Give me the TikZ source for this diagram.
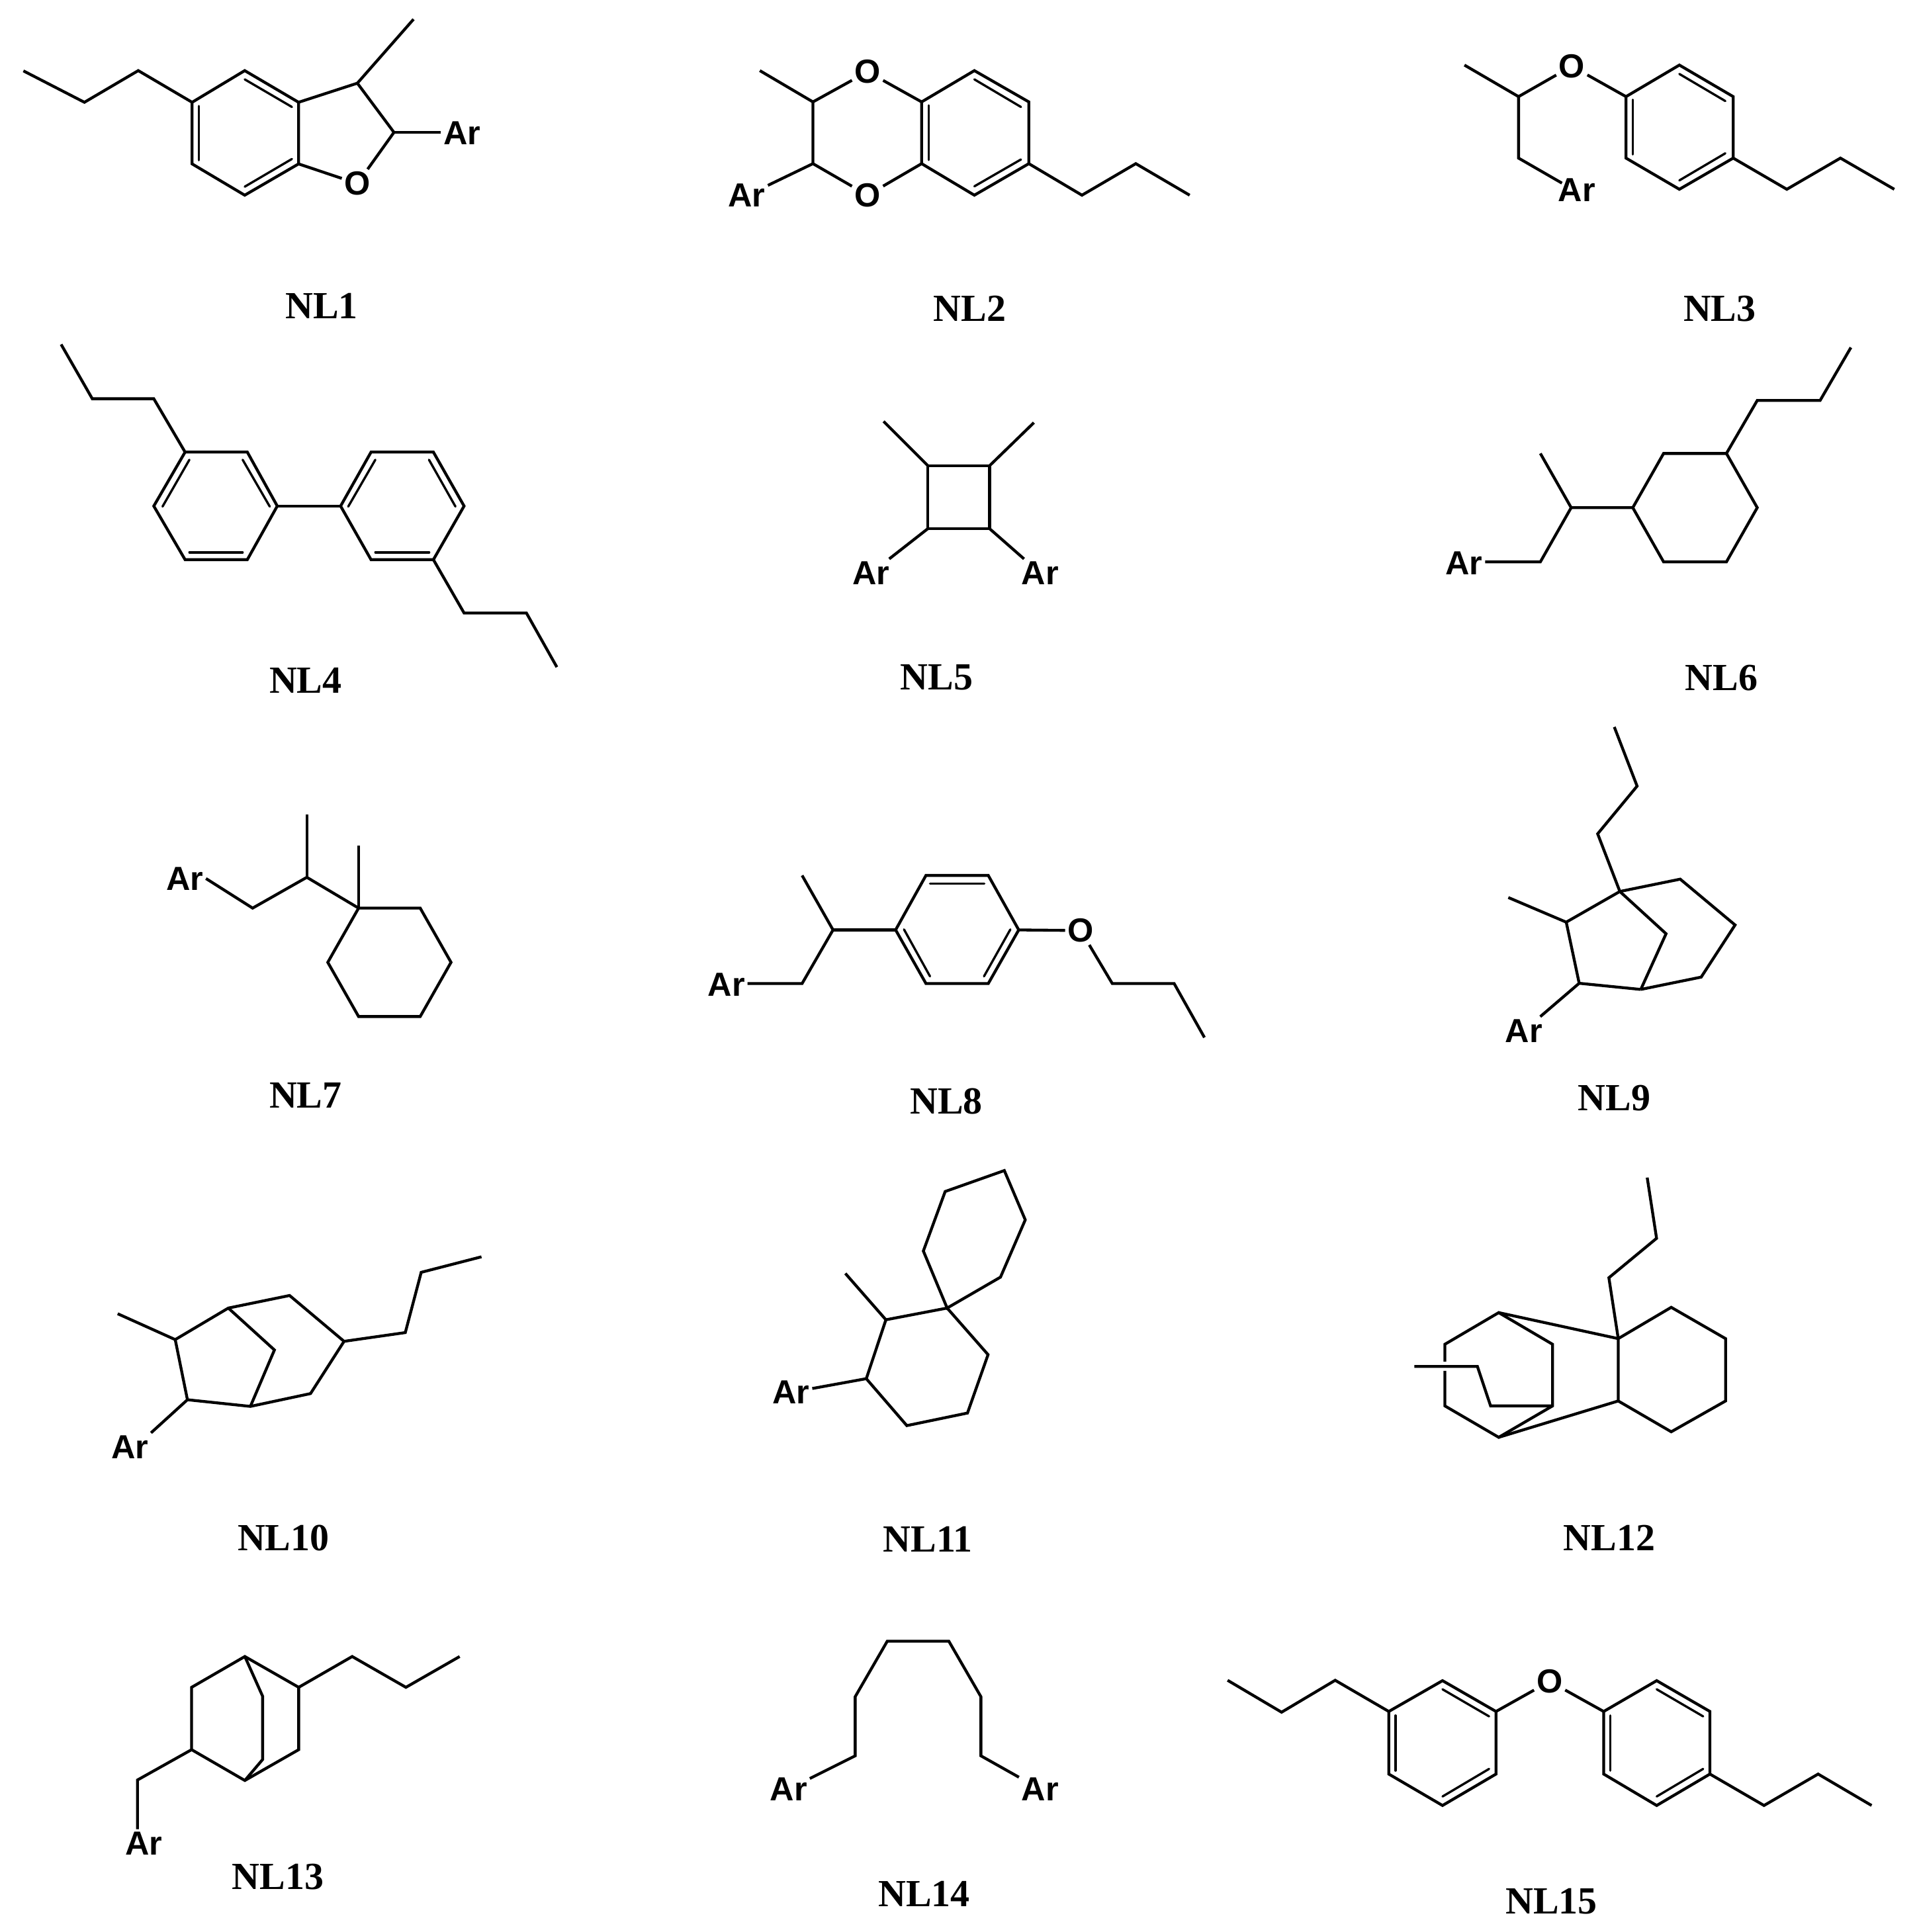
\documentclass[tikz,border=0pt]{standalone}
\usepackage{fontspec}
\setmainfont{Liberation Serif}
\newfontfamily\atomfont{Liberation Sans}
\usepackage{tikz}
\usetikzlibrary{positioning}
\tikzset{
  bond/.style={line width=0.66pt, line join=miter},
  dbl/.style={line width=0.52pt, line cap=round},
  atom/.style={font=\atomfont\bfseries\fontsize{7.7}{9}\selectfont, inner sep=0.4pt},
  nlname/.style={font=\bfseries\fontsize{8.85}{10}\selectfont, inner sep=0pt}
}

\begin{document}
\begin{tikzpicture}[x=0.01cm, y=-0.01cm]
  \useasboundingbox (0, 0) rectangle (1557, 1568);

  % NL1
  \node[atom] (ar1) at (375, 108) {Ar};
  \node[atom] (o1) at (290, 149) {O};
  \node[nlname] (nl1) at (261, 248) {NL1};
  \draw[bond] (19, 57.5) -- (68.5, 83) -- (112.2, 57.3) -- (155.9, 83);
  \draw[bond] (155.9, 83) -- (198.6, 57.3) -- (242.3, 83) -- (242.3, 133) -- (198.6, 158.4) -- (155.9, 133) -- cycle;
  \draw[bond] (242.3, 83) -- (290, 67.5) -- (319.7, 107.4);
  \draw[bond] (290, 67.5) -- (335.6, 15.6);
  \draw[bond] (319.7, 107.4) -- (ar1.west |- 319.7, 107.4);
  \draw[bond] (319.7, 107.4) -- (o1);
  \draw[bond] (242.3, 133) -- (o1);
  \draw[dbl] (161.4, 86) -- (161.4, 130);
  \draw[dbl] (198.6, 64.4) -- (236.9, 86.8);
  \draw[dbl] (236.9, 129) -- (198.6, 151.5);

  % NL2
  \node[atom] (ar2) at (606, 158.7) {Ar};
  \node[atom] (o2a) at (704, 58.2) {O};
  \node[atom] (o2b) at (704, 158.4) {O};
  \node[nlname] (nl2) at (787, 250.2) {NL2};
  \draw[bond] (616.6, 57.3) -- (659.7, 82.7) -- (659.7, 132.8);
  \draw[bond] (659.7, 82.7) -- (o2a);
  \draw[bond] (659.7, 132.8) -- (o2b);
  \draw[bond] (659.7, 132.8) -- (ar2);
  \draw[bond] (747.9, 82.7) -- (o2a);
  \draw[bond] (747.9, 132.8) -- (o2b);
  \draw[bond] (747.9, 82.7) -- (790.7, 57.3) -- (834.9, 82.7) -- (834.9, 132.8) -- (790.7, 158.4) -- (747.9, 132.8) -- cycle;
  \draw[bond] (834.9, 132.8) -- (878, 158.4) -- (921.7, 132.8) -- (965.4, 158.4);
  \draw[dbl] (753.5, 85.5) -- (753.5, 129.8);
  \draw[dbl] (790.7, 64.4) -- (828.5, 86.8);
  \draw[dbl] (828.5, 129.4) -- (790.7, 151.2);

  % NL3
  \node[atom] (ar3) at (1279.5, 154.3) {Ar};
  \node[atom] (o3) at (1275.5, 53.7) {O};
  \node[nlname] (nl3) at (1395.5, 250.8) {NL3};
  \coordinate (ar3end) at (1267.5, 148.6);
  \draw[bond] (1188.4, 52.8) -- (1232.3, 78.4) -- (1232.3, 128.3) -- (ar3end);
  \draw[bond] (1232.3, 78.4) -- (o3);
  \draw[bond] (1319.5, 78.4) -- (o3);
  \draw[bond] (1319.5, 78.4) -- (1362.8, 52.8) -- (1406.5, 78.4) -- (1406.5, 128.3) -- (1362.8, 153.6) -- (1319.5, 128.3) -- cycle;
  \draw[bond] (1406.5, 128.3) -- (1450, 153.6) -- (1493.5, 128.3) -- (1537.2, 153.6);
  \draw[dbl] (1325, 80.9) -- (1325, 125.3);
  \draw[dbl] (1362.8, 60) -- (1400.1, 82);
  \draw[dbl] (1400.1, 124.4) -- (1362.8, 146.4);

  % NL4
  \node[nlname] (nl4) at (248, 552) {NL4};
  \draw[bond] (49.6, 279.5) -- (74.9, 323.6) -- (124.8, 323.6) -- (150.2, 366.9);
  \draw[bond] (150.2, 366.9) -- (200.7, 366.9) -- (225, 410.7) -- (200.7, 454.2) -- (150.2, 454.2) -- (124.8, 410.7) -- cycle;
  \draw[bond] (225, 410.7) -- (276.4, 410.7);
  \draw[bond] (276.4, 410.7) -- (301.1, 366.9) -- (351.7, 366.9) -- (376.6, 410.7) -- (351.7, 454.2) -- (301.1, 454.2) -- cycle;
  \draw[bond] (351.7, 454.2) -- (376.6, 497.5) -- (427.2, 497.5) -- (451.9, 541.4);
  \draw[dbl] (153.7, 373.1) -- (131.9, 411.1);
  \draw[dbl] (196.9, 373.1) -- (218.9, 411.1);
  \draw[dbl] (153.7, 448.3) -- (196.9, 448.3);
  \draw[dbl] (304.6, 373.1) -- (282.6, 411.1);
  \draw[dbl] (348.1, 373.1) -- (369.6, 411.1);
  \draw[dbl] (304.6, 448.3) -- (348.3, 448.3);

  % NL5
  \node[atom] (ar5a) at (707, 465) {Ar};
  \node[atom] (ar5b) at (844, 465) {Ar};
  \node[nlname] (nl5) at (760, 550) {NL5};
  \draw[bond] (753, 378) -- (803, 378) -- (803, 429) -- (753, 429) -- cycle;
  \draw[bond] (717, 342) -- (753, 378);
  \draw[bond] (839, 343) -- (803, 378);
  \draw[bond] (753, 429) -- (ar5a);
  \draw[bond] (803, 429) -- (ar5b);

  % NL6
  \node[atom] (ar6) at (1188, 457) {Ar};
  \node[nlname] (nl6) at (1397, 550) {NL6};
  \draw[bond] (1350, 368) -- (1401, 368) -- (1426, 412) -- (1401, 456) -- (1350, 456) -- (1325, 412) -- cycle;
  \draw[bond] (1401, 368) -- (1426, 325) -- (1477, 325) -- (1502, 282);
  \draw[bond] (1325, 412) -- (1275, 412) -- (1250, 368);
  \draw[bond] (1275, 412) -- (1250, 456) -- (ar6.east |- 1250, 456);

  % NL7
  \node[atom] (ar7) at (150, 713) {Ar};
  \node[nlname] (nl7) at (248, 889) {NL7};
  \draw[bond] (ar7.east) -- (205, 737) -- (249, 712) -- (291, 737);
  \draw[bond] (249, 712) -- (249, 661);
  \draw[bond] (291, 737) -- (291, 686);
  \draw[bond] (291, 737) -- (341, 737) -- (366, 781) -- (341, 825) -- (291, 825) -- (266, 781) -- cycle;

  % NL8
  \node[atom] (ar8) at (589.5, 799) {Ar};
  \node[atom] (o8) at (877, 755.2) {O};
  \node[nlname] (nl8) at (768, 894) {NL8};
  \draw[bond] (650.9, 710.5) -- (676, 754.7) -- (650.9, 798.2) -- (ar8.east |- 650.9, 798.2);
  \draw[bond] (676, 754.7) -- (726.8, 754.7);
  \draw[bond] (726.8, 754.7) -- (751.4, 710.5) -- (802, 710.5) -- (826.7, 754.7) -- (802, 798.2) -- (751.4, 798.2) -- cycle;
  \draw[bond] (826.7, 754.7) -- (o8);
  \draw[bond] (o8) -- (902.6, 798.2) -- (952.8, 798.2) -- (977.4, 842);
  \draw[dbl] (754.7, 717.1) -- (798.8, 717.1);
  \draw[dbl] (733.6, 754.3) -- (754.7, 792.4);
  \draw[dbl] (819.9, 754.3) -- (798.5, 792.4);

  % NL9
  \node[atom] (ar9) at (1236.6, 836.5) {Ar};
  \node[nlname] (nl9) at (1310, 891) {NL9};
  \draw[bond] (1310, 590) -- (1328.5, 638) -- (1296.5, 676.7) -- (1314.5, 723.5);
  \draw[bond] (1314.5, 723.5) -- (1363.5, 713.5) -- (1408, 750.7) -- (1380.5, 793) -- (1331.5, 803);
  \draw[bond] (1314.5, 723.5) -- (1271, 748.4) -- (1281.5, 798) -- (1331.5, 803);
  \draw[bond] (1314.5, 723.5) -- (1352, 757.8) -- (1331.5, 803);
  \draw[bond] (1224, 728.4) -- (1271, 748.4);
  \draw[bond] (1281.5, 798) -- (ar9);

  % NL10
  \node[atom] (ar10) at (105.4, 1174.3) {Ar};
  \node[nlname] (nl10) at (230, 1248) {NL10};
  \draw[bond] (95.5, 1066.2) -- (142.2, 1087.2) -- (185.3, 1061.6) -- (235, 1051.4) -- (279.2, 1088.6) -- (252, 1131) -- (203.2, 1141.4) -- (152.1, 1136) -- (142.2, 1087.2);
  \draw[bond] (185.3, 1061.6) -- (222.7, 1095.6) -- (203.2, 1141.4);
  \draw[bond] (279.2, 1088.6) -- (328.9, 1081.5) -- (341.8, 1032.6) -- (390.7, 1020);
  \draw[bond] (152.1, 1136) -- (ar10.north east);

  % NL11
  \node[atom] (ar11) at (642, 1130) {Ar};
  \node[nlname] (nl11) at (753, 1249) {NL11};
  \draw[bond] (767, 967) -- (815, 950) -- (832, 990) -- (811.9, 1036.5) -- (768.6, 1061.6) -- (749.3, 1015.3) -- cycle;
  \draw[bond] (768.6, 1061.6) -- (801.8, 1099.4) -- (785.1, 1146.8) -- (735.9, 1157) -- (703, 1118.9) -- (718.9, 1071.1) -- cycle;
  \draw[bond] (686, 1033.5) -- (718.9, 1071.1);
  \draw[bond] (703, 1118.9) -- (ar11);

  % NL12
  \node[nlname] (nl12) at (1306, 1248) {NL12};
  \draw[bond] (1336.7, 955.7) -- (1344.3, 1005) -- (1305.6, 1037) -- (1313.2, 1086.4);
  \draw[bond] (1313.2, 1086.4) -- (1356.2, 1061) -- (1400.3, 1086.4) -- (1400.3, 1137) -- (1356.2, 1162) -- (1313.2, 1137) -- cycle;
  \draw[bond] (1172.5, 1105) -- (1172.5, 1091) -- (1216.2, 1065.3) -- (1259.9, 1091) -- (1259.9, 1141) -- (1216.2, 1166.5) -- (1172.5, 1141) -- (1172.5, 1112.5);
  \draw[bond] (1216.2, 1065.3) -- (1313.2, 1086.4);
  \draw[bond] (1216.2, 1166.5) -- (1313.2, 1137);
  \draw[bond] (1147.7, 1109) -- (1198.9, 1109) -- (1209.6, 1141) -- (1259.9, 1141);

  % NL13
  \node[atom] (ar13) at (116.6, 1496) {Ar};
  \node[nlname] (nl13) at (225.5, 1523) {NL13};
  \draw[bond] (198.7, 1344.4) -- (242.4, 1369.4) -- (242.4, 1420) -- (198.7, 1445) -- (155.5, 1420) -- (155.5, 1369.4) -- cycle;
  \draw[bond] (198.7, 1344.4) -- (213.1, 1376.6) -- (213.1, 1428) -- (198.7, 1445);
  \draw[bond] (242.4, 1369.4) -- (285.8, 1344.4) -- (329.4, 1369.4) -- (373, 1344.4);
  \draw[bond] (155.5, 1420) -- (111.6, 1444.6) -- (ar13.north -| 111.6, 1444.6);

  % NL14
  \node[atom] (ar14a) at (640, 1452) {Ar};
  \node[atom] (ar14b) at (844, 1452) {Ar};
  \node[nlname] (nl14) at (750, 1537) {NL14};
  \draw[bond] (ar14a) -- (694, 1425) -- (694, 1377) -- (720, 1332) -- (770, 1332) -- (796, 1377) -- (796, 1425) -- (ar14b);

  % NL15
  \node[atom] (o15) at (1257.5, 1364.6) {O};
  \node[nlname] (nl15) at (1259, 1543) {NL15};
  \draw[bond] (996.2, 1363.7) -- (1040, 1389.6) -- (1083.5, 1363.7) -- (1127, 1389);
  \draw[bond] (1127, 1389) -- (1170.6, 1364) -- (1214, 1389) -- (1214, 1439.8) -- (1170.6, 1465.3) -- (1127, 1439.8) -- cycle;
  \draw[bond] (1214, 1389) -- (o15);
  \draw[bond] (1301.4, 1389) -- (o15);
  \draw[bond] (1301.4, 1389) -- (1344.4, 1364) -- (1387.6, 1389) -- (1387.6, 1439.8) -- (1344.4, 1465.3) -- (1301.4, 1439.8) -- cycle;
  \draw[bond] (1387.6, 1439.8) -- (1431.5, 1465.3) -- (1475.4, 1439.8) -- (1518.8, 1465.3);
  \draw[dbl] (1132.4, 1392.3) -- (1132.4, 1437);
  \draw[dbl] (1170.6, 1371) -- (1208.4, 1393);
  \draw[dbl] (1208.4, 1435.6) -- (1170.6, 1458);
  \draw[dbl] (1306.7, 1392.3) -- (1306.7, 1437);
  \draw[dbl] (1344.4, 1371) -- (1382.1, 1393);
  \draw[dbl] (1382.1, 1435.6) -- (1344.4, 1458);
\end{tikzpicture}
\end{document}
